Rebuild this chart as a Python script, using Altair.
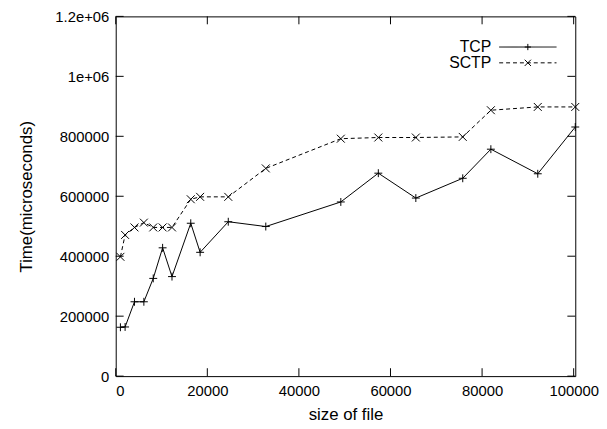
import altair as alt
import pandas as pd

# file sizes (KB) -> bytes
size_kb = [1, 2, 4, 6, 8, 10, 12, 16, 18, 24, 32, 48, 56, 64, 74, 80, 90, 98]
tcp = [163000, 164000, 248000, 248000, 326000, 428000, 332000, 510000, 413000,
       515000, 499000, 581000, 677000, 594000, 660000, 757000, 675000, 831000]
sctp = [398000, 471000, 496000, 512000, 496000, 496000, 496000, 590000, 598000,
        598000, 693000, 792000, 796000, 796000, 798000, 887000, 898000, 898000]
x_ticks = [0, 20000, 40000, 60000, 80000, 100000]
y_ticks = [0, 200000, 400000, 600000, 800000, 1000000, 1200000]

sizes = [k * 1024 for k in size_kb]
df = pd.DataFrame({
    "size": sizes * 2,
    "time": tcp + sctp,
    "series": ["TCP"] * len(sizes) + ["SCTP"] * len(sizes),
})
tcp_df = df[df.series == "TCP"]
sctp_df = df[df.series == "SCTP"]

W, H = 465, 364
FONT = "Liberation Sans"
FS = 15
FT = 17
FL = 16

xs = alt.Scale(domain=[0, 100352], nice=False, zero=False)
ys = alt.Scale(domain=[0, 1200000], nice=False)

PLUS = "M-1,0L1,0M0,-1L0,1"
CROSS = "M-1,-1L1,1M-1,1L1,-1"

ylab = ("datum.value == 1000000 ? '1e+06' : datum.value == 1200000 ? '1.2e+06' : "
        "format(datum.value, 'd')")

base_x = alt.X("size:Q", scale=xs,
               axis=alt.Axis(title="size of file", values=x_ticks, format="d",
                             ticks=False, grid=False, domain=False,
                             labelPadding=8, titlePadding=8))
base_y = alt.Y("time:Q", scale=ys,
               axis=alt.Axis(title="Time(microseconds)", values=y_ticks,
                             labelExpr=ylab, ticks=False, grid=False, domain=False,
                             labelPadding=7, titlePadding=20))

tcp_line = alt.Chart(tcp_df).mark_line(color="black", strokeWidth=1).encode(x=base_x, y=base_y)
tcp_pts = alt.Chart(tcp_df).mark_point(shape=PLUS, size=64, filled=False, color="black",
                                       strokeWidth=1, opacity=1).encode(x="size:Q", y="time:Q")
sctp_line = alt.Chart(sctp_df).mark_line(color="black", strokeWidth=1,
                                         strokeDash=[4, 3]).encode(x="size:Q", y="time:Q")
sctp_pts = alt.Chart(sctp_df).mark_point(shape=CROSS, size=64, filled=False, color="black",
                                         strokeWidth=1, opacity=1).encode(x="size:Q", y="time:Q")

# inward tick marks (gnuplot style, mirrored)
xt = pd.DataFrame({"size": x_ticks})
yt = pd.DataFrame({"time": y_ticks})
TL = 8
bottom_ticks = alt.Chart(xt).mark_rule(color="black").encode(
    x="size:Q", y=alt.value(H), y2=alt.value(H - TL))
top_ticks = alt.Chart(xt).mark_rule(color="black").encode(
    x="size:Q", y=alt.value(0), y2=alt.value(TL))
left_ticks = alt.Chart(yt).mark_rule(color="black").encode(
    y="time:Q", x=alt.value(0), x2=alt.value(TL))
right_ticks = alt.Chart(yt).mark_rule(color="black").encode(
    y="time:Q", x=alt.value(W), x2=alt.value(W - TL))

# legend (gnuplot style: label, then sample)
lg = pd.DataFrame({"series": ["TCP", "SCTP"]})
LX_TEXT, LX0, LX1, LXM = 380, 388, 446, 417
LY = {"TCP": 31, "SCTP": 47}
leg = []
for name, dash, shp in [("TCP", [1, 0], PLUS), ("SCTP", [4, 3], CROSS)]:
    d = lg[lg.series == name]
    leg.append(alt.Chart(d).mark_text(align="right", baseline="middle", font=FONT,
                                      fontSize=FL, color="black").encode(
        text="series:N", x=alt.value(LX_TEXT), y=alt.value(LY[name])))
    leg.append(alt.Chart(d).mark_rule(color="black", strokeWidth=1, strokeDash=dash).encode(
        x=alt.value(LX0), x2=alt.value(LX1), y=alt.value(LY[name])))
    leg.append(alt.Chart(d).mark_point(shape=shp, size=40, filled=False, color="black",
                                       strokeWidth=1, opacity=1).encode(
        x=alt.value(LXM), y=alt.value(LY[name])))

chart = alt.layer(tcp_line, tcp_pts, sctp_line, sctp_pts,
                  bottom_ticks, top_ticks, left_ticks, right_ticks, *leg).properties(
    width=W, height=H,
    autosize=alt.AutoSizeParams(type="none"),
    padding={"left": 109, "top": 6, "right": 24, "bottom": 50},
    background="white",
).configure_view(stroke="black", strokeWidth=1).configure_axis(
    labelFont=FONT, titleFont=FONT, labelFontSize=FS, titleFontSize=FT,
    labelColor="black", titleColor="black", titleFontWeight="normal",
)

chart.save("out.html", embed_options={"renderer": "svg", "actions": False})
